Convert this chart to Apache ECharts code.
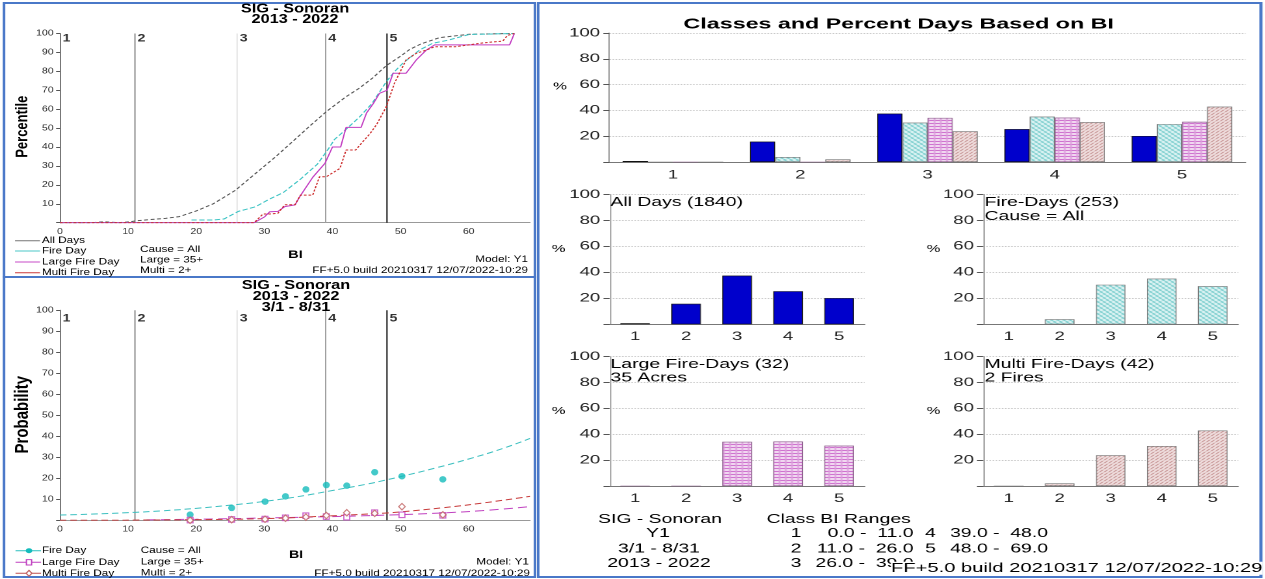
<!DOCTYPE html>
<html><head><meta charset="utf-8">
<script src="https://cdn.jsdelivr.net/npm/echarts@6/dist/echarts.min.js"></script>
<style>
html,body{margin:0;padding:0;background:#fff;overflow:hidden;width:1265px;height:579px;}
#left{position:absolute;left:0;top:0;width:413.077px;height:579px;transform:scaleX(1.3);transform-origin:0 0;}
#right{position:absolute;left:537px;top:0;width:469.677px;height:579px;transform:scaleX(1.55);transform-origin:0 0;}
</style></head><body>
<div id="left"></div><div id="right"></div>
<script>
// ---------------- DATA ----------------
const classLabels = ['1', '2', '3', '4', '5'];
const classLow  = [0.0, 11.0, 26.0, 39.0, 48.0];
const classHigh = [11.0, 26.0, 39.0, 48.0, 69.0];
const biTicks = [0, 10, 20, 30, 40, 50, 60];

// cumulative percentile curves [BI, percentile]
const allDaysCurve = [[0,0],[4.6,0],[4.7,0.5],[6.5,0.5],[6.6,0],[8.6,0],[8.7,0.5],[10.3,0.5],[11.2,1.0],[13,1.6],[15.5,2.3],[17.5,3.2],[20,6.2],[22.5,10],[25.7,17],[28.7,26],[31.7,35],[34.8,45],[36.8,51.5],[39.2,59],[42,66.6],[43.9,71],[45.9,76.5],[47.9,83],[50,88],[51.3,91.5],[53,94.5],[55.7,97.8],[60.1,99.6],[66.7,100]];
const fireDayCurve = [[19.3,1.4],[22.4,1.4],[24.1,2],[26.2,6],[28.7,8.4],[30.5,12],[32.8,16],[35.3,23],[37.8,31],[39.4,39],[40.3,44],[41.9,49],[44,56],[45.8,63],[47.9,74.5],[49.1,79.8],[50.3,84.2],[52.8,91.3],[54.7,94.8],[57,96.5],[60.1,99.5],[66.7,100]];
const largeFireCurve = [[0,0],[28.5,0],[30,3],[30.8,5.8],[32,6],[33,8.5],[34.5,9.4],[35.2,13.8],[37.1,24],[38.9,31.4],[40,40],[41.2,40],[42,50.4],[44.2,50.4],[45,58],[46,63],[46.9,68.4],[48,70],[48.9,79],[50.8,79],[52.3,86],[53.8,91.3],[55,94],[66,94],[66.7,100]];
const multiFireCurve = [[0,0],[28.5,0],[29.8,4.6],[30.8,4.6],[32,5],[33,9.5],[34.5,9.5],[35.3,14.6],[37.1,14.6],[38.1,24.3],[39.1,24.3],[41.1,28.7],[42,38.4],[43.4,38.4],[44.5,43],[45.5,47],[46.5,52],[47.9,61.3],[49.1,73.7],[50.8,86],[52.3,89.5],[53.8,91.3],[55,93],[58,93],[62,95],[65,96],[65.7,99],[66.7,100]];

// probability panel
const probBI    = [19.1, 25.2, 30.1, 33.1, 36.1, 39.1, 42.1, 46.2, 50.2, 56.2];
const fireProb  = [2.7, 5.9, 8.9, 11.4, 14.7, 16.8, 16.5, 22.9, 21.0, 19.5];
const largeProb = [0.1, 0.4, 0.6, 1.2, 2.2, 1.8, 1.5, 3.6, 2.6, 2.4];
const multiProb = [0.0, 0.3, 0.5, 1.0, 1.5, 2.3, 3.6, 3.3, 6.5, 2.6];
const fireFitCurve  = [[0,2.5],[5,3.0],[11,3.8],[15,4.5],[20,5.7],[25,7.2],[30,9.0],[35,11.3],[40,14.2],[45,17.2],[48,19.3],[50,20.8],[55,24.8],[60,29.2],[65,34.2],[69,39]];
const largeFitCurve = [[12.7,0.2],[20,0.5],[30,1.1],[39,1.7],[50,2.7],[56,3.5],[62,4.6],[69,6.5]];
const multiFitCurve = [[0,0],[8,0],[11,0.1],[20,0.3],[30,0.8],[39,2.0],[48,3.5],[50,4.0],[56,5.9],[62,8.2],[69,11.4]];

// percent days per class
const pctAllDays   = [0.8, 15.8, 37.5, 25.5, 20.2];
const pctFireDays  = [0, 3.9, 30.5, 35.2, 29.4];
const pctLargeDays = [0, 0, 34.2, 34.4, 31.2];
const pctMultiDays = [0, 2.0, 23.8, 30.9, 42.9];

// ---------------- LAYOUT HELPERS ----------------
const SL = 1.3, SR = 1.55;
const L = t => t / SL;
const R = t => (t - 537) / SR;
const FONT = 'Liberation Sans';

function txt(x, y, text, o) {
  o = o || {};
  const st = { text: text, x: 0, y: 0, fill: o.color || '#000',
    fontSize: o.size || 12, fontWeight: o.weight || 'normal', fontFamily: FONT,
    textAlign: o.align || 'left', align: o.align || 'left',
    textVerticalAlign: 'middle', verticalAlign: 'middle' };
  if (o.lineHeight) st.lineHeight = o.lineHeight;
  if (o.bg) { st.backgroundColor = o.bg; }
  return { type: 'text', x: x, y: y, rotation: o.rot || 0, silent: true, z: 100, style: st };
}
function hline(x1, x2, y, color, dash) {
  return { type: 'line', silent: true, z: 100, shape: { x1: x1, y1: y, x2: x2, y2: y },
    style: { stroke: color, lineWidth: 1, lineDash: dash || null } };
}

// ---------------- LEFT PANELS ----------------
const boundColors = [null, '#8c8c8c', '#e4e4e4', '#a0a0a0', '#111'];
function boundarySeries(xi, yi, labelY) {
  const out = [];
  for (let i = 1; i < classLow.length; i++) {
    out.push({ type: 'line', xAxisIndex: xi, yAxisIndex: yi, data: [[classLow[i], 0], [classLow[i], 100]],
      symbol: 'none', silent: true, z: 1, lineStyle: { color: boundColors[i], width: 1 } });
  }
  out.push({ type: 'scatter', xAxisIndex: xi, yAxisIndex: yi, silent: true, z: 5,
    data: classLow.map((b, i) => ({ value: [b, labelY], name: classLabels[i] })),
    symbolSize: 1, itemStyle: { color: 'rgba(0,0,0,0)' },
    label: { show: true, position: 'right', distance: 1.5, formatter: p => p.name,
      fontWeight: 'bold', fontSize: 11, color: '#000', fontFamily: FONT } });
  return out;
}
function biAxis(gi) {
  return { type: 'value', gridIndex: gi, min: 0, max: 69, interval: 10,
    axisLine: { show: true, onZero: false, lineStyle: { color: '#999', width: 1 } },
    axisTick: { show: false },
    axisLabel: { fontSize: 8, color: '#333', margin: 5, fontFamily: FONT,
      formatter: v => (biTicks.indexOf(v) >= 0 ? String(v) : '') },
    splitLine: { show: false } };
}
function pctAxis(gi) {
  return { type: 'value', gridIndex: gi, min: 0, max: 100, interval: 10,
    axisLine: { show: true, lineStyle: { color: '#777' } },
    axisTick: { show: true, length: 3, lineStyle: { color: '#555' } },
    axisLabel: { fontSize: 8, color: '#333', margin: 5, fontFamily: FONT, formatter: v => (v === 0 ? '' : String(v)) },
    splitLine: { show: false } };
}

const leftSeries = [].concat(
  boundarySeries(0, 0, 97.4),
  [
    { type: 'line', xAxisIndex: 0, yAxisIndex: 0, data: allDaysCurve, symbol: 'none', z: 3, lineStyle: { color: '#555', width: 1, type: [3, 2] } },
    { type: 'line', xAxisIndex: 0, yAxisIndex: 0, data: fireDayCurve, symbol: 'none', z: 3, lineStyle: { color: '#3cc4c4', width: 1, type: [4, 2] } },
    { type: 'line', xAxisIndex: 0, yAxisIndex: 0, data: largeFireCurve, symbol: 'none', z: 3, lineStyle: { color: '#c23cc2', width: 1 } },
    { type: 'line', xAxisIndex: 0, yAxisIndex: 0, data: multiFireCurve, symbol: 'none', z: 3, lineStyle: { color: '#cc2a2a', width: 1, type: [2, 1.5] } }
  ],
  boundarySeries(1, 1, 96.2),
  [
    { type: 'line', xAxisIndex: 1, yAxisIndex: 1, data: fireFitCurve, smooth: true, symbol: 'none', z: 3, lineStyle: { color: '#3cc0c0', width: 1, type: [5, 3] } },
    { type: 'line', xAxisIndex: 1, yAxisIndex: 1, data: largeFitCurve, smooth: true, symbol: 'none', z: 3, lineStyle: { color: '#c040c0', width: 1, type: [7, 4] } },
    { type: 'line', xAxisIndex: 1, yAxisIndex: 1, data: multiFitCurve, smooth: true, symbol: 'none', z: 3, lineStyle: { color: '#c83a3a', width: 1, type: [5, 3] } },
    { type: 'scatter', xAxisIndex: 1, yAxisIndex: 1, z: 4, data: probBI.map((b, i) => [b, fireProb[i]]), symbol: 'circle', symbolSize: [5.4, 6.5], itemStyle: { color: '#14bcbc' } },
    { type: 'scatter', xAxisIndex: 1, yAxisIndex: 1, z: 4, data: probBI.map((b, i) => [b, largeProb[i]]), symbol: 'rect', symbolSize: [4.5, 5.5], itemStyle: { color: '#fff', borderColor: '#c040c0', borderWidth: 1 } },
    { type: 'scatter', xAxisIndex: 1, yAxisIndex: 1, z: 4, data: probBI.map((b, i) => [b, multiProb[i]]), symbol: 'diamond', symbolSize: [5, 6.5], itemStyle: { color: '#fff', borderColor: '#c06060', borderWidth: 1 } }
  ]
);

const leftGraphics = [
  { type: 'rect', silent: true, shape: { x: L(4), y: 3, width: L(535) - L(4), height: 274 }, style: { fill: 'none', stroke: '#4a78c8', lineWidth: 2 } },
  { type: 'rect', silent: true, shape: { x: L(4), y: 277, width: L(535) - L(4), height: 300 }, style: { fill: 'none', stroke: '#4a78c8', lineWidth: 2 } },
  txt(L(295), 14.5, 'SIG - Sonoran\n2013 - 2022', { size: 12.5, weight: 'bold', align: 'center', lineHeight: 10.5 }),
  txt(L(22.4), 126.7, 'Percentile', { size: 13, weight: 'bold', align: 'center', rot: Math.PI / 2 }),
  hline(L(15), L(40), 240.7, '#777'), txt(L(42), 240.7, 'All Days', { size: 9 }),
  hline(L(15), L(40), 251, '#4cc8c8'), txt(L(42), 251, 'Fire Day', { size: 9 }),
  hline(L(15), L(40), 262, '#c84cc8'), txt(L(42), 262, 'Large Fire Day', { size: 9 }),
  hline(L(15), L(40), 272.7, '#cc3a3a'), txt(L(42), 272.7, 'Multi Fire Day', { size: 9 }),
  txt(L(140), 249.3, 'Cause = All', { size: 9 }),
  txt(L(140), 260, 'Large = 35+', { size: 9 }),
  txt(L(140), 270.7, 'Multi = 2+', { size: 9 }),
  txt(L(295.5), 255, 'BI', { size: 11, weight: 'bold', align: 'center' }),
  txt(L(528), 259.5, 'Model: Y1', { size: 9, align: 'right' }),
  txt(L(528), 270.5, 'FF+5.0 build 20210317 12/07/2022-10:29', { size: 9, align: 'right' }),

  txt(L(296), 296.3, 'SIG - Sonoran\n2013 - 2022\n3/1 - 8/31', { size: 12.5, weight: 'bold', align: 'center', lineHeight: 11 }),
  txt(L(22.4), 414.7, 'Probability', { size: 15, weight: 'bold', align: 'center', rot: Math.PI / 2 }),
  hline(L(15.5), L(41), 550.7, '#2cc0c0'),
  { type: 'circle', silent: true, z: 100, shape: { cx: L(29), cy: 550.7, r: 2.5 }, style: { fill: '#14bcbc' } },
  txt(L(42), 550.7, 'Fire Day', { size: 9 }),
  hline(L(15.5), L(41), 562.3, '#c040c0'),
  { type: 'rect', silent: true, z: 101, shape: { x: L(29) - 2, y: 559.6, width: 4, height: 5.4 }, style: { fill: '#fff', stroke: '#c040c0', lineWidth: 1 } },
  txt(L(42), 562.3, 'Large Fire Day', { size: 9 }),
  hline(L(15.5), L(41), 573.3, '#c05050'),
  { type: 'polygon', silent: true, z: 101, shape: { points: [[L(29), 570.3], [L(29) + 2.2, 573.3], [L(29), 576.3], [L(29) - 2.2, 573.3]] }, style: { fill: '#fff', stroke: '#c06060', lineWidth: 1 } },
  txt(L(42), 573.3, 'Multi Fire Day', { size: 9 }),
  txt(L(140.7), 550.7, 'Cause = All', { size: 9 }),
  txt(L(140.7), 562, 'Large = 35+', { size: 9 }),
  txt(L(140.7), 573, 'Multi = 2+', { size: 9 }),
  txt(L(296), 555, 'BI', { size: 11, weight: 'bold', align: 'center' }),
  txt(L(529), 562, 'Model: Y1', { size: 9, align: 'right' }),
  txt(L(530), 573.3, 'FF+5.0 build 20210317 12/07/2022-10:29', { size: 9, align: 'right' })
];

const leftChart = echarts.init(document.getElementById('left'), null, { renderer: 'canvas', devicePixelRatio: 2 });
leftChart.setOption({
  animation: false,
  backgroundColor: '#fff',
  grid: [
    { left: L(60), top: 33.5, width: L(530) - L(60), height: 189.2 },
    { left: L(60), top: 310.3, width: L(530) - L(60), height: 210 }
  ],
  xAxis: [biAxis(0), biAxis(1)],
  yAxis: [pctAxis(0), pctAxis(1)],
  series: leftSeries,
  graphic: leftGraphics
});

// ---------------- RIGHT PANEL ----------------
function pattern(w, h, bg, draw) {
  const c = document.createElement('canvas'); c.width = w; c.height = h;
  const g = c.getContext('2d'); g.fillStyle = bg; g.fillRect(0, 0, w, h); draw(g);
  return { image: c, repeat: 'repeat' };
}
const firePat = pattern(4, 4, '#e6f7f7', g => { g.fillStyle = '#62c6c6'; for (let i = 0; i < 4; i++) g.fillRect(i, i, 1, 1); g.fillStyle = '#a6dddd'; for (let i = 0; i < 4; i++) g.fillRect(3 - i, i, 1, 1); });
const largePat = pattern(4, 3, '#f8ecf8', g => { g.fillStyle = '#c24ac2'; g.fillRect(0, 0, 4, 1); g.fillStyle = '#dc9edc'; g.fillRect(0, 0, 1, 3); });
const multiPat = pattern(3, 3, '#f6eaea', g => { g.fillStyle = '#b47272'; g.fillRect(0, 0, 1, 1); g.fillRect(1, 2, 1, 1); g.fillStyle = '#d8b2b2'; g.fillRect(2, 1, 1, 1); });

function catAxis(gi, margin) {
  return { type: 'category', gridIndex: gi, data: classLabels, boundaryGap: true,
    axisLine: { show: true, lineStyle: { color: '#777' } }, axisTick: { show: false },
    axisLabel: { fontSize: 12, color: '#222', margin: margin, fontFamily: FONT } };
}
function pAxis(gi) {
  return { type: 'value', gridIndex: gi, min: 0, max: 100, interval: 20,
    axisLine: { show: true, lineStyle: { color: '#aaa' } },
    axisTick: { show: true, length: 4, lineStyle: { color: '#555' } },
    axisLabel: { fontSize: 12, color: '#222', margin: 6, padding: [5, 0, 0, 0], fontFamily: FONT, formatter: v => (v === 0 ? '' : String(v)) },
    splitLine: { show: true, lineStyle: { type: 'dotted', color: '#c8c8c8' } } };
}
const blueStyle = { color: '#0000cc', borderColor: '#111', borderWidth: 0.6 };
const fireStyle = { color: firePat, borderColor: '#777', borderWidth: 0.6 };
const largeStyle = { color: largePat, borderColor: '#8a5a8a', borderWidth: 0.6 };
const multiStyle = { color: multiPat, borderColor: '#777', borderWidth: 0.6 };

const smallW = 255 / SR;
const rightChart = echarts.init(document.getElementById('right'), null, { renderer: 'canvas', devicePixelRatio: 2 });
rightChart.setOption({
  animation: false,
  backgroundColor: '#fff',
  grid: [
    { left: R(609.4), top: 33, width: (1245.6 - 609.4) / SR, height: 129 },
    { left: R(609.6), top: 194.5, width: smallW, height: 129.8 },
    { left: R(983.2), top: 194.5, width: smallW, height: 129.8 },
    { left: R(609.6), top: 356.7, width: smallW, height: 129.3 },
    { left: R(983.2), top: 356.7, width: smallW, height: 129.3 }
  ],
  xAxis: [catAxis(0, 7), catAxis(1, 6.5), catAxis(2, 6.5), catAxis(3, 6.5), catAxis(4, 6.5)],
  yAxis: [pAxis(0), pAxis(1), pAxis(2), pAxis(3), pAxis(4)],
  series: [
    { type: 'bar', xAxisIndex: 0, yAxisIndex: 0, data: pctAllDays, barGap: '0%', barCategoryGap: '21%', itemStyle: blueStyle },
    { type: 'bar', xAxisIndex: 0, yAxisIndex: 0, data: pctFireDays, barGap: '0%', barCategoryGap: '21%', itemStyle: fireStyle },
    { type: 'bar', xAxisIndex: 0, yAxisIndex: 0, data: pctLargeDays, barGap: '0%', barCategoryGap: '21%', itemStyle: largeStyle },
    { type: 'bar', xAxisIndex: 0, yAxisIndex: 0, data: pctMultiDays, barGap: '0%', barCategoryGap: '21%', itemStyle: multiStyle },
    { type: 'bar', xAxisIndex: 1, yAxisIndex: 1, data: pctAllDays, barWidth: '58%', itemStyle: blueStyle },
    { type: 'bar', xAxisIndex: 2, yAxisIndex: 2, data: pctFireDays, barWidth: '58%', itemStyle: fireStyle },
    { type: 'bar', xAxisIndex: 3, yAxisIndex: 3, data: pctLargeDays, barWidth: '58%', itemStyle: largeStyle },
    { type: 'bar', xAxisIndex: 4, yAxisIndex: 4, data: pctMultiDays, barWidth: '58%', itemStyle: multiStyle }
  ],
  graphic: [
    { type: 'rect', silent: true, shape: { x: R(538), y: 3, width: R(1261) - R(538), height: 574 }, style: { fill: 'none', stroke: '#4a78c8', lineWidth: 2 } },
    txt(R(898.7), 24.2, 'Classes and Percent Days Based on BI', { size: 15, weight: 'bold', align: 'center' }),
    txt(R(560), 86.7, '%', { size: 10, align: 'center' }),
    txt(R(558.6), 249, '%', { size: 10, align: 'center' }),
    txt(R(933.5), 249, '%', { size: 10, align: 'center' }),
    txt(R(558.6), 411, '%', { size: 10, align: 'center' }),
    txt(R(933.5), 411, '%', { size: 10, align: 'center' }),
    txt(R(610.5), 202.3, 'All Days (1840)', { size: 12.5 }),
    txt(R(984.5), 202.3, 'Fire-Days (253)', { size: 12.5 }),
    txt(R(984.5), 216.7, 'Cause = All', { size: 12.5 }),
    txt(R(610.5), 364.5, 'Large Fire-Days (32)', { size: 12.5 }),
    txt(R(610.5), 378, '35 Acres', { size: 12.5 }),
    txt(R(984.5), 364.5, 'Multi Fire-Days (42)', { size: 12.5 }),
    txt(R(984.5), 378, '2 Fires', { size: 12.5 }),
    txt(R(660), 519.3, 'SIG - Sonoran', { size: 12.5, align: 'center' }),
    txt(R(658), 533.5, 'Y1', { size: 12.5, align: 'center' }),
    txt(R(659), 549, '3/1 - 8/31', { size: 12.5, align: 'center' }),
    txt(R(659), 563.3, '2013 - 2022', { size: 12.5, align: 'center' }),
    txt(R(766.5), 519.3, 'Class BI Ranges', { size: 12.5 }),
    txt(R(790.6), 533.5, classLabels[0], { size: 12.5 }),
    txt(R(913.5), 533.5, classLow[0].toFixed(1) + ' -  ' + classHigh[0].toFixed(1), { size: 12.5, align: 'right' }),
    txt(R(790.6), 549, classLabels[1], { size: 12.5 }),
    txt(R(913.5), 549, classLow[1].toFixed(1) + ' -  ' + classHigh[1].toFixed(1), { size: 12.5, align: 'right' }),
    txt(R(790.6), 563.3, classLabels[2], { size: 12.5 }),
    txt(R(913.5), 563.3, classLow[2].toFixed(1) + ' -  ' + classHigh[2].toFixed(1), { size: 12.5, align: 'right' }),
    txt(R(925), 533.5, classLabels[3], { size: 12.5 }),
    txt(R(1048), 533.5, classLow[3].toFixed(1) + ' -  ' + classHigh[3].toFixed(1), { size: 12.5, align: 'right' }),
    txt(R(925), 549, classLabels[4], { size: 12.5 }),
    txt(R(1048), 549, classLow[4].toFixed(1) + ' -  ' + classHigh[4].toFixed(1), { size: 12.5, align: 'right' }),
    txt(R(891), 568.3, 'FF+5.0 build 20210317 12/07/2022-10:29', { size: 13, bg: '#fff' })
  ]
});
</script>
</body></html>
